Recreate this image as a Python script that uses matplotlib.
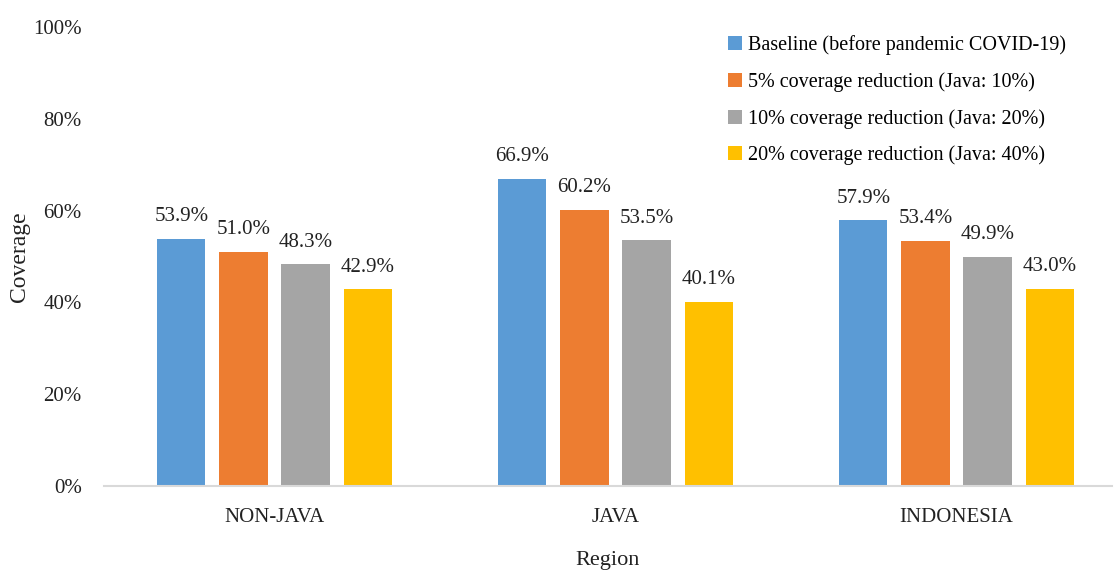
import matplotlib.pyplot as plt
import numpy as np

regions = ['NON-JAVA', 'JAVA', 'INDONESIA']
series_names = ['Baseline (before pandemic COVID-19)',
                '5% coverage reduction (Java: 10%)',
                '10% coverage reduction (Java: 20%)',
                '20% coverage reduction (Java: 40%)']
baseline = [53.9, 66.9, 57.9]
cut_5 = [51.0, 60.2, 53.4]
cut_10 = [48.3, 53.5, 49.9]
cut_20 = [42.9, 40.1, 43.0]
colors = ['#5B9BD5', '#ED7D31', '#A5A5A5', '#FFC000']

plt.rcParams['font.family'] = ['Liberation Serif', 'DejaVu Serif']

fig = plt.figure(figsize=(11.14, 5.70), dpi=100)
ax = fig.add_axes([104 / 1114, 1 - 486 / 570, 1008 / 1114, 459 / 570])

x = np.arange(len(regions))
pitch = 0.182
width = 0.141
all_series = [baseline, cut_5, cut_10, cut_20]

for i, vals in enumerate(all_series):
    pos = x + (i - 1.5) * pitch
    bars = ax.bar(pos, np.array(vals) / 100, width=width, color=colors[i],
                  label=series_names[i])
    for b, v in zip(bars, vals):
        ax.annotate(f'{v:.1f}%', (b.get_x() + b.get_width() / 2, b.get_height()),
                    xytext=(0, 9), textcoords='offset points',
                    ha='center', va='bottom', fontsize=15, color='#222222')

ax.set_xlim(-0.5, 2.456)
ax.set_ylim(0, 1)
ax.set_yticks(np.arange(0, 1.01, 0.2))
ax.set_yticklabels([f'{int(t * 100)}%' for t in np.arange(0, 1.01, 0.2)])
ax.set_xticks(x)
ax.set_xticklabels(regions)
ax.tick_params(axis='both', length=0, labelsize=15, colors='#222222')
ax.tick_params(axis='x', pad=16)
ax.tick_params(axis='y', pad=16)

for s in ['top', 'right', 'left']:
    ax.spines[s].set_visible(False)
ax.spines['bottom'].set_color('#D9D9D9')
ax.spines['bottom'].set_linewidth(1.5)

ax.set_xlabel('Region', fontsize=16, labelpad=17, color='#222222')
ax.set_ylabel('Coverage', fontsize=17, labelpad=2, color='#222222')

ax.legend(loc='upper right', bbox_to_anchor=(0.972, 1.022), frameon=False,
          fontsize=14.5, handlelength=0.7, handleheight=0.7, handletextpad=0.3,
          labelspacing=0.85)

plt.savefig('out.png', dpi=100)
